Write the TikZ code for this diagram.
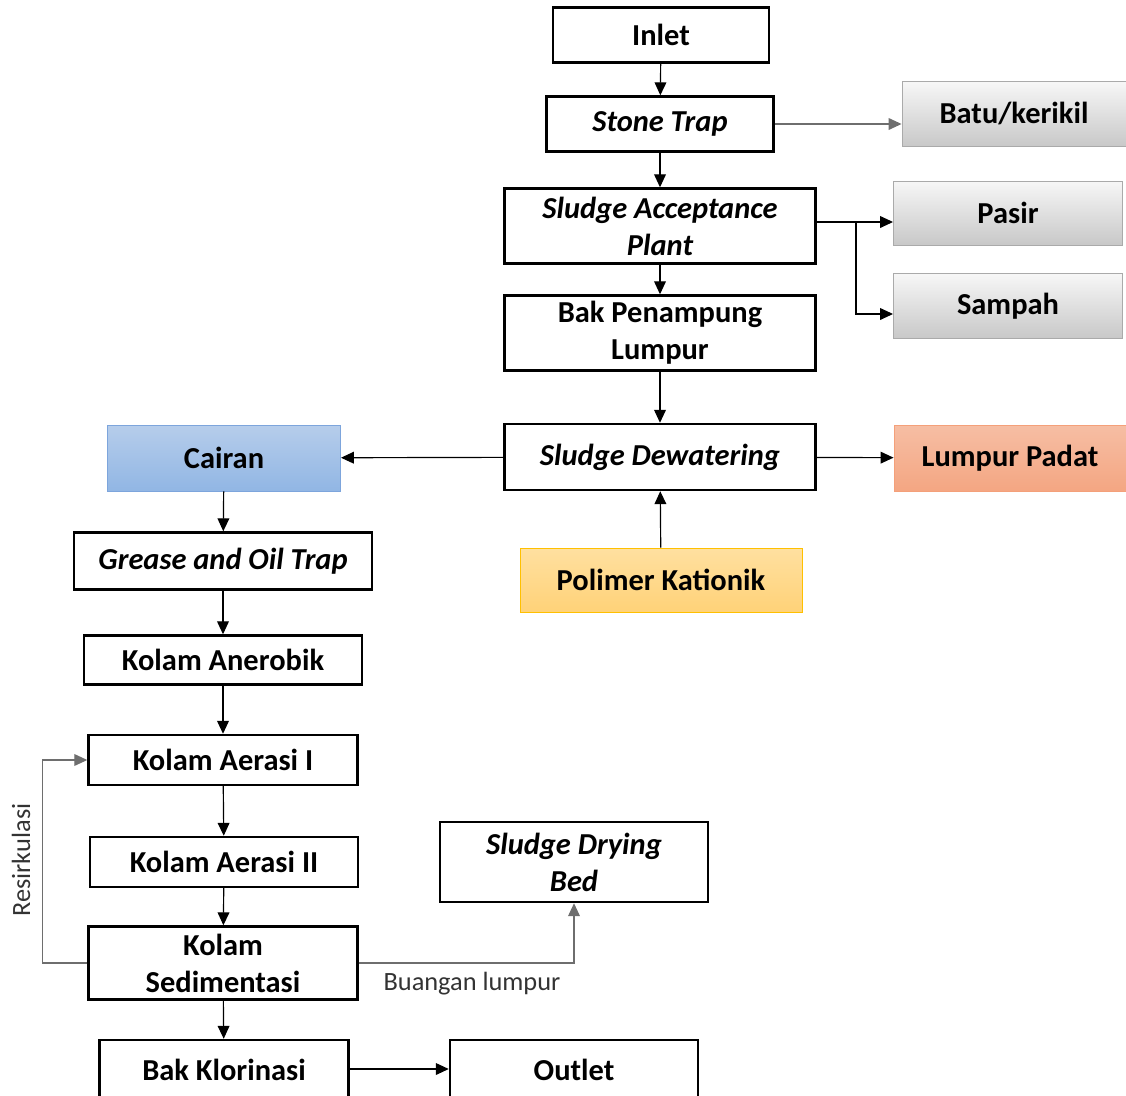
\documentclass[tikz,border=0pt]{standalone}
\usepackage{fontspec}
\setmainfont{Carlito}
\usetikzlibrary{arrows.meta}

\definecolor{grayfill}{RGB}{200,200,200}
\definecolor{grayline}{RGB}{170,170,170}
\definecolor{blueline}{RGB}{125,165,220}
\definecolor{orangeline}{RGB}{244,160,122}
\definecolor{yellowline}{RGB}{255,192,0}
\definecolor{connline}{RGB}{110,110,110}

\tikzset{
    proc/.style={draw, line width=2.1pt, inner sep=0pt, align=center,
        font=\fontsize{26}{31.5}\selectfont\bfseries},
    grayproc/.style={proc, draw=grayline, line width=0.8pt,
        top color=white!85!grayfill, bottom color=grayfill},
    link/.style={line width=1pt, -{Triangle[length=11pt, width=10pt]}},
    glink/.style={link, draw=connline},
    note/.style={font=\fontsize{22.5}{27}\selectfont, text=black!80},
}

\begin{document}
\begin{tikzpicture}[x=0.03cm, y=-0.03cm]
    \useasboundingbox (0,0) rectangle (1126,1095);

    % right column
    \node[proc, minimum width=6.48cm, minimum height=1.65cm] (inlet) at (661,35) {Inlet};
    \node[proc, minimum width=6.81cm, minimum height=1.65cm] (stone) at (660,124) {\itshape Stone Trap};
    \node[proc, minimum width=9.33cm, minimum height=2.25cm] (sap) at (660,226) {\itshape Sludge Acceptance\\\itshape Plant};
    \node[proc, minimum width=9.33cm, minimum height=2.25cm] (bak) at (660,333) {Bak Penampung\\Lumpur};
    \node[proc, minimum width=9.33cm, minimum height=1.98cm] (dewater) at (660,457) {\itshape Sludge Dewatering};
    \node[proc, draw=yellowline, line width=0.8pt, top color={rgb,255:red,255;green,224;blue,160},
        bottom color={rgb,255:red,255;green,210;blue,120},
        minimum width=8.46cm, minimum height=1.92cm] (polimer) at (661,580) {Polimer Kationik};

    % side products
    \node[grayproc, minimum width=6.72cm, minimum height=1.95cm] (batu) at (1014,114) {Batu/kerikil};
    \node[grayproc, minimum width=6.87cm, minimum height=1.92cm] (pasir) at (1008,213) {Pasir};
    \node[grayproc, minimum width=6.87cm, minimum height=1.95cm] (sampah) at (1008,306) {Sampah};
    \node[proc, draw=orangeline, line width=0.8pt, top color={rgb,255:red,246;green,190;blue,164},
        bottom color={rgb,255:red,244;green,166;blue,130},
        minimum width=6.96cm, minimum height=1.98cm] (lumpur) at (1010,458) {Lumpur Padat};
    \node[proc, draw=blueline, line width=0.8pt, top color={rgb,255:red,182;green,205;blue,235},
        bottom color={rgb,255:red,145;green,182;blue,228},
        minimum width=6.99cm, minimum height=1.98cm] (cairan) at (224,458) {Cairan};

    % left column
    \node[proc, minimum width=8.94cm, minimum height=1.71cm] (grease) at (223,561) {\itshape Grease and Oil Trap};
    \node[proc, minimum width=8.34cm, minimum height=1.47cm] (anerob) at (223,660) {Kolam Anerobik};
    \node[proc, minimum width=8.07cm, minimum height=1.5cm] (aer1) at (223,760) {Kolam Aerasi I};
    \node[proc, minimum width=8.04cm, minimum height=1.5cm] (aer2) at (224,862) {Kolam Aerasi II};
    \node[proc, minimum width=8.07cm, minimum height=2.19cm] (sedim) at (223,963) {Kolam\\Sedimentasi};
    \node[proc, minimum width=8.04cm, minimum height=2.4cm] (drying) at (574,862) {\itshape Sludge Drying\\\itshape Bed};
    \node[proc, minimum width=7.47cm, minimum height=1.8cm] (klor) at (224,1070) {Bak Klorinasi};
    \node[proc, minimum width=7.44cm, minimum height=1.8cm] (outlet) at (574,1070) {Outlet};

    % connectors
    \draw[link] (inlet) -- (stone);
    \draw[link] (stone) -- (sap);
    \draw[link] (sap) -- (bak);
    \draw[link] (bak) -- (dewater);
    \draw[glink] (stone.east) -- (stone.east -| batu.west);
    \coordinate (split) at (856,222);
    \draw[link] (sap.east |- split) -- (pasir.west |- split);
    \draw[link] (split) |- (sampah.west |- 0,314);
    \draw[link] (dewater) -- (cairan);
    \draw[link] (dewater) -- (lumpur);
    \draw[link] (polimer) -- (dewater);
    \draw[link] (cairan) -- (grease);
    \draw[link] (grease) -- (anerob);
    \draw[link] (anerob) -- (aer1);
    \draw[link] (aer1) -- (aer2);
    \draw[link] (aer2) -- (sedim);
    \draw[link] (sedim) -- (klor);
    \draw[link] (klor.east |- 0,1069) -- (outlet.west |- 0,1069);

    % recirculation and sludge disposal
    \draw[glink] (sedim.west) -- ++(-45,0) coordinate (resir) |- (aer1.west);
    \draw[glink] (sedim.east) -| (drying.south);
    \node[note, rotate=90] (resirlabel) at (21,860) {Resirkulasi};
    \node[note] (buangan) at (472,984) {Buangan lumpur};
\end{tikzpicture}
\end{document}
